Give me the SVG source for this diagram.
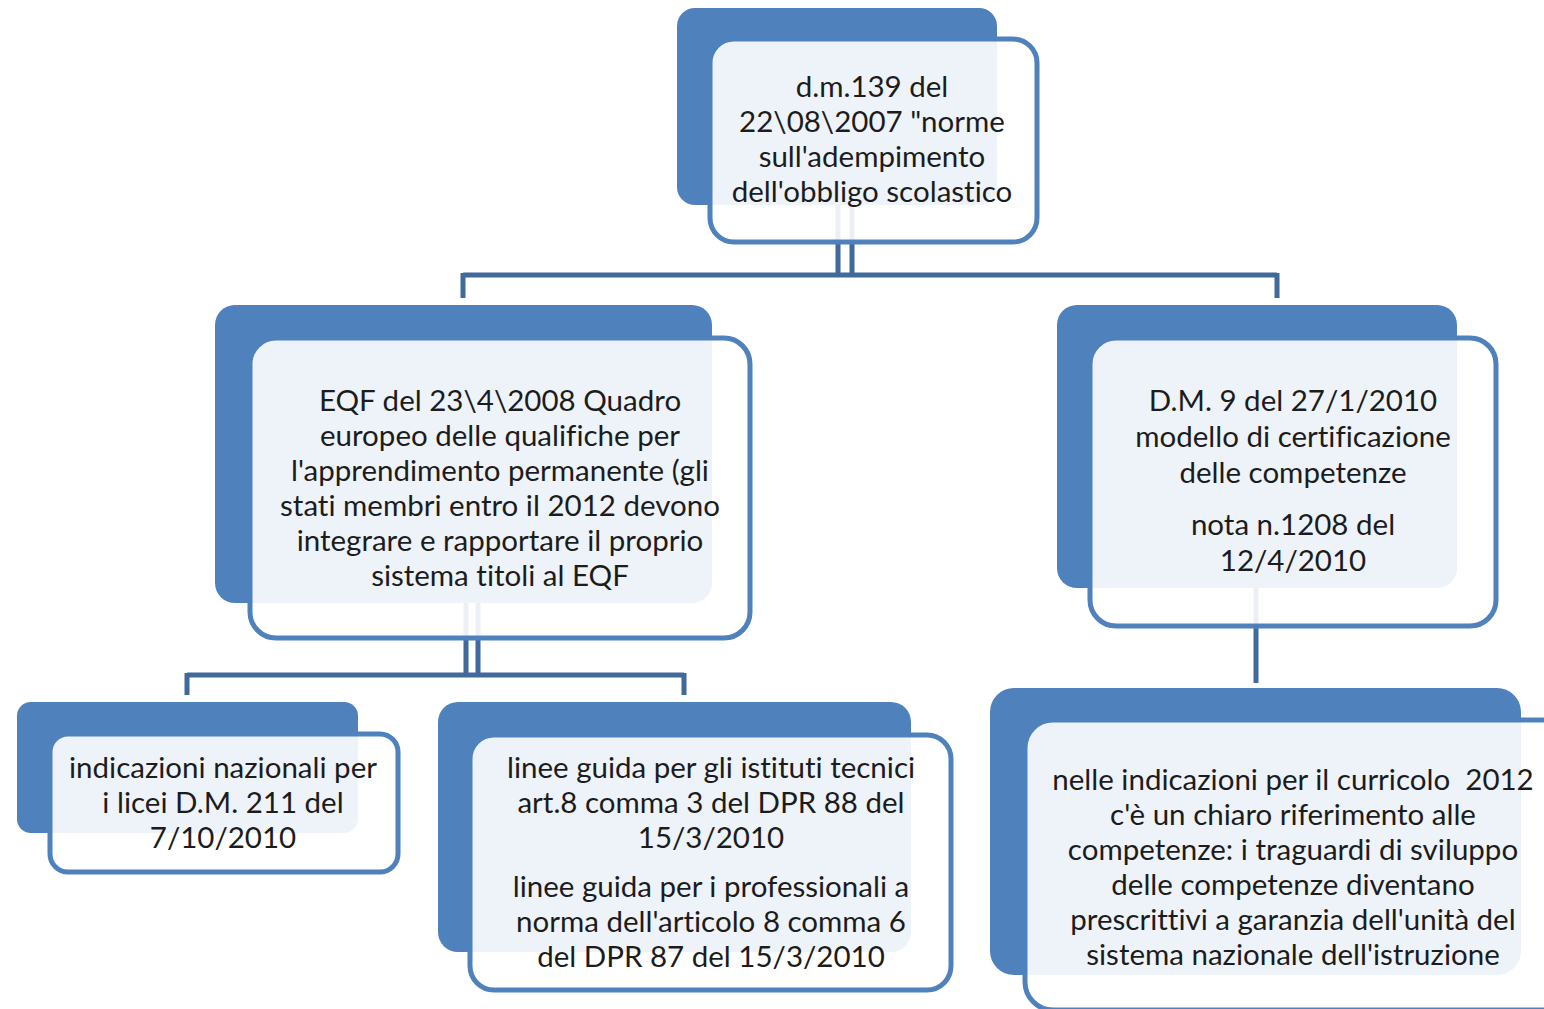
<svg xmlns="http://www.w3.org/2000/svg" width="1544" height="1009" viewBox="0 0 1544 1009">
<style>
.back{fill:#4f81bd}
.front{fill:#ffffff;fill-opacity:0.9;stroke:#4f81bd;stroke-width:5}
.conn{stroke:#41699c;stroke-width:5;fill:none}
text{font-family:Lato,"Liberation Sans",sans-serif;font-size:29.5px;fill:#1c1c1c;text-anchor:middle;font-variant-ligatures:none}
</style>
<rect width="1544" height="1009" fill="#ffffff"/>
<g id="connectors">
<path class="conn" d="M838,205 V276 M852,205 V276 M463,275 H1277 M463,273 V298 M1277,273 V298"/>
<path class="conn" d="M466,603 V676 M478,603 V676 M187,675 H684 M187,673 V695 M684,673 V695"/>
<path class="conn" d="M1256,588 V683"/>
</g>
<g id="n-top">
<rect class="back" x="677" y="8" width="320" height="197" rx="18"/>
<rect class="front" x="710" y="39" width="327" height="203" rx="24"/>
<text x="872" y="97">d.m.139 del</text>
<text x="872" y="132">22\08\2007 "norme</text>
<text x="872" y="167">sull'adempimento</text>
<text x="872" y="202">dell'obbligo scolastico</text>
</g>
<g id="n-eqf">
<rect class="back" x="215" y="305" width="497" height="298" rx="20"/>
<rect class="front" x="250" y="338" width="500" height="300" rx="26"/>
<text x="500" y="411">EQF del 23\4\2008 Quadro</text>
<text x="500" y="446">europeo delle qualifiche per</text>
<text x="500" y="481">l'apprendimento permanente (gli</text>
<text x="500" y="516">stati membri entro il 2012 devono</text>
<text x="500" y="551">integrare e rapportare il proprio</text>
<text x="500" y="586">sistema titoli al EQF</text>
</g>
<g id="n-dm9">
<rect class="back" x="1057" y="305" width="400" height="283" rx="20"/>
<rect class="front" x="1090" y="338" width="406" height="288" rx="26"/>
<text x="1293" y="411">D.M. 9 del 27/1/2010</text>
<text x="1293" y="447">modello di certificazione</text>
<text x="1293" y="483">delle competenze</text>
<text x="1293" y="535">nota n.1208 del</text>
<text x="1293" y="571">12/4/2010</text>
</g>
<g id="n-licei">
<rect class="back" x="17" y="702" width="341" height="131" rx="14"/>
<rect class="front" x="50" y="734" width="348" height="138" rx="18"/>
<text x="223" y="778">indicazioni nazionali per</text>
<text x="223" y="813">i licei D.M. 211 del</text>
<text x="223" y="848">7/10/2010</text>
</g>
<g id="n-linee">
<rect class="back" x="438" y="702" width="473" height="250" rx="20"/>
<rect class="front" x="470" y="735" width="481" height="255" rx="24"/>
<text x="711" y="778">linee guida per gli istituti tecnici</text>
<text x="711" y="813">art.8 comma 3 del DPR 88 del</text>
<text x="711" y="848">15/3/2010</text>
<text x="711" y="897">linee guida per i professionali a</text>
<text x="711" y="932">norma dell'articolo 8 comma 6</text>
<text x="711" y="967">del DPR 87 del 15/3/2010</text>
</g>
<g id="n-curricolo">
<rect class="back" x="990" y="688" width="531" height="287" rx="24"/>
<rect class="front" x="1025" y="720" width="560" height="290" rx="28"/>
<text x="1293" y="790">nelle indicazioni per il curricolo &#160;2012</text>
<text x="1293" y="825">c'è un chiaro riferimento alle</text>
<text x="1293" y="860">competenze: i traguardi di sviluppo</text>
<text x="1293" y="895">delle competenze diventano</text>
<text x="1293" y="930">prescrittivi a garanzia dell'unità del</text>
<text x="1293" y="965">sistema nazionale dell'istruzione</text>
</g>
</svg>
